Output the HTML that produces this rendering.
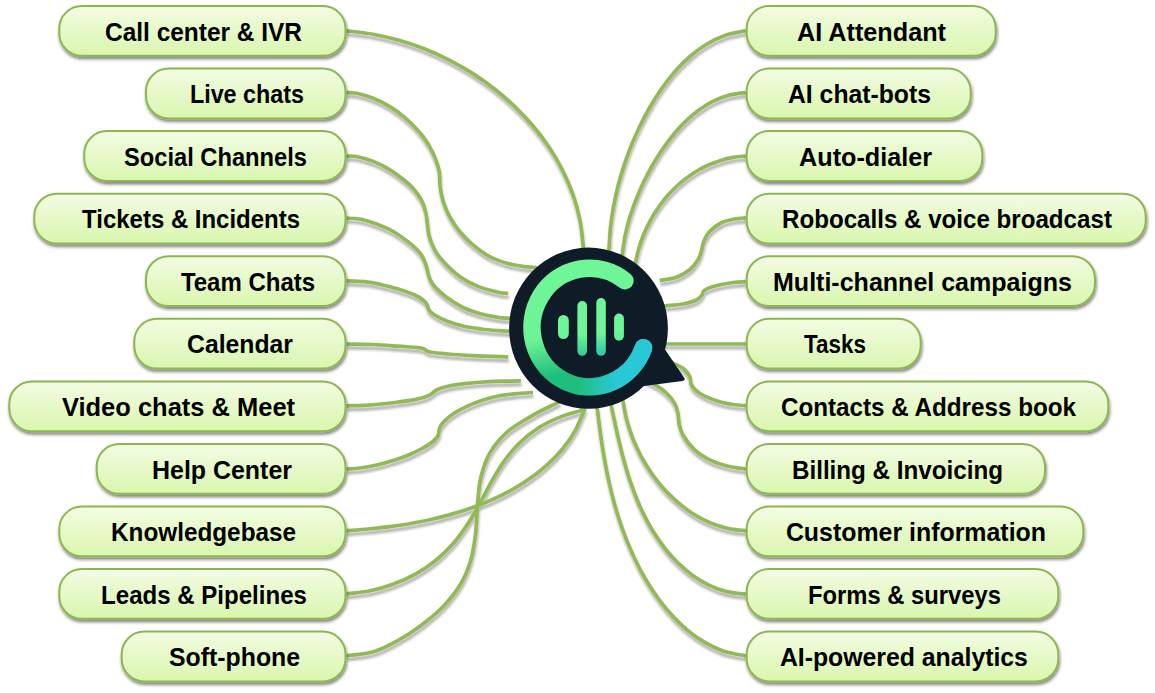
<!DOCTYPE html>
<html lang="en"><head><meta charset="utf-8"><title>Mind map</title>
<style>
html,body{margin:0;padding:0;background:#fff;}
body{width:1155px;height:693px;overflow:hidden;}
svg{display:block;}
.t{font-family:"Liberation Sans",sans-serif;font-weight:700;font-size:25.0px;fill:#000;}
.c{fill:none;stroke:#91b954;stroke-width:3.7;stroke-linecap:butt;}
.b{fill:url(#bg);stroke:#8cb750;stroke-width:2;}
</style></head><body>
<svg width="1155" height="693" viewBox="0 0 1155 693">
<defs>
<linearGradient id="bg" x1="0" y1="0" x2="0" y2="1"><stop offset="0" stop-color="#f3fce4"/><stop offset="0.5" stop-color="#e6f9c8"/><stop offset="1" stop-color="#daf6ae"/></linearGradient>
<filter id="sh" x="-5%" y="-20%" width="110%" height="150%"><feDropShadow dx="0.8" dy="2.5" stdDeviation="1.6" flood-color="#000" flood-opacity="0.48"/></filter>
<filter id="sl" x="-10%" y="-10%" width="120%" height="120%" filterUnits="userSpaceOnUse"><feDropShadow dx="0.6" dy="3.8" stdDeviation="1.0" flood-color="#000" flood-opacity="0.29"/></filter>
<linearGradient id="cg" gradientUnits="userSpaceOnUse" x1="575" y1="259" x2="600" y2="396"><stop offset="0" stop-color="#70f799"/><stop offset="0.52" stop-color="#6cf396"/><stop offset="0.8" stop-color="#1ebf7e"/><stop offset="1" stop-color="#1ebf7e"/></linearGradient>
<linearGradient id="cy" gradientUnits="userSpaceOnUse" x1="578" y1="0" x2="616" y2="0"><stop offset="0" stop-color="#28c8d6" stop-opacity="0"/><stop offset="1" stop-color="#28c8d6" stop-opacity="1"/></linearGradient>
<linearGradient id="bar" x1="0" y1="0" x2="0" y2="1"><stop offset="0" stop-color="#70f799"/><stop offset="0.55" stop-color="#6af295"/><stop offset="1" stop-color="#2fcb8b"/></linearGradient>
</defs>

<g filter="url(#sl)">
<path class="c" d="M346.5 30.8C350.9 31.4 364.2 32.6 373.0 34.2C381.7 35.8 390.4 37.8 399.0 40.3C407.5 42.7 416.0 45.6 424.3 48.8C432.6 52.1 440.8 55.8 448.8 59.8C456.8 63.9 464.6 68.3 472.2 73.1C479.8 78.0 487.1 83.1 494.2 88.7C501.3 94.2 508.1 100.1 514.6 106.3C521.0 112.4 527.2 119.0 532.9 125.8C538.7 132.6 544.1 139.7 549.0 147.1C554.0 154.5 558.5 162.2 562.5 170.1C566.5 178.0 570.1 186.2 573.0 194.6C575.9 202.9 578.3 211.6 580.0 220.3C581.8 229.1 582.7 242.2 583.3 247.3C583.9 252.4 583.7 250.2 583.7 250.8"/>
<path class="c" d="M346.5 92.5C348.2 92.6 352.2 92.3 356.6 93.3C361.1 94.3 367.6 96.1 373.2 98.3C378.8 100.5 384.3 103.1 389.9 106.6C395.4 110.0 401.0 114.0 406.5 119.0C412.0 124.0 418.6 130.8 423.0 136.5C427.4 142.2 430.4 147.4 433.0 153.0C435.6 158.6 437.8 165.3 438.9 169.8C440.0 174.3 439.4 176.6 439.7 180.0C440.0 183.4 439.9 186.1 440.6 190.0C441.3 193.9 442.4 198.9 443.9 203.3C445.4 207.7 447.1 211.9 449.7 216.6C452.3 221.3 455.8 226.8 459.7 231.5C463.6 236.2 468.0 240.6 473.0 244.8C478.0 249.0 484.1 253.5 489.6 256.5C495.1 259.5 500.7 261.4 506.2 263.0C511.7 264.6 518.3 265.7 522.8 266.4C527.3 267.1 531.0 267.1 533.3 267.3C535.6 267.5 536.2 267.5 536.8 267.6"/>
<path class="c" d="M346.5 156.1C348.2 156.2 352.2 155.6 356.6 156.5C361.1 157.4 367.6 159.2 373.2 161.4C378.8 163.6 384.8 166.7 389.9 169.8C395.0 172.9 400.1 176.9 404.0 180.0C407.9 183.1 410.1 185.0 413.0 188.3C415.9 191.6 419.3 196.1 421.4 200.0C423.5 203.9 424.6 207.7 425.6 211.6C426.6 215.5 426.8 219.3 427.3 223.2C427.9 227.1 427.7 230.5 428.9 234.9C430.1 239.3 432.1 245.1 434.7 249.8C437.3 254.5 440.5 258.6 444.7 263.0C448.9 267.4 454.1 272.5 459.7 276.4C465.2 280.3 471.6 283.8 478.0 286.4C484.4 289.0 492.9 291.0 497.9 292.2C502.9 293.4 506.5 293.3 508.2 293.5"/>
<path class="c" d="M346.5 218.2C348.7 218.3 354.9 218.0 359.9 219.0C364.9 220.0 371.1 221.9 376.6 224.0C382.2 226.1 387.7 228.3 393.2 231.5C398.7 234.7 405.1 239.3 409.8 243.2C414.5 247.1 418.6 250.9 421.4 254.8C424.2 258.7 425.1 262.8 426.4 266.4C427.6 270.0 428.0 273.6 428.9 276.4C429.8 279.2 430.8 281.0 432.0 283.0C433.2 285.0 433.7 285.8 436.4 288.3C439.1 290.9 443.3 295.0 448.0 298.3C452.7 301.6 459.1 305.7 464.7 308.3C470.2 310.9 475.8 312.5 481.3 314.0C486.8 315.5 493.4 316.7 497.9 317.4C502.4 318.1 505.9 318.0 508.2 318.2C510.5 318.4 511.1 318.4 511.7 318.5"/>
<path class="c" d="M346.5 280.8C349.6 280.9 359.0 281.1 364.9 281.7C370.8 282.3 376.1 283.5 381.6 284.7C387.2 285.9 392.7 287.3 398.2 289.0C403.7 290.7 410.7 293.2 414.8 295.0C418.9 296.8 420.9 298.3 423.0 300.0C425.1 301.7 426.3 303.3 427.3 305.0C428.3 306.7 427.7 308.3 428.9 310.0C430.1 311.7 431.5 313.1 434.7 315.0C437.9 316.9 443.0 319.7 448.0 321.6C453.0 323.5 459.1 325.3 464.7 326.5C470.2 327.7 475.8 328.3 481.3 329.0C486.8 329.7 493.4 330.3 497.9 330.7C502.4 331.1 505.9 331.1 508.2 331.2C510.5 331.3 511.1 331.3 511.7 331.4"/>
<path class="c" d="M346.5 344.0C350.9 344.1 364.6 344.1 373.2 344.5C381.8 344.9 391.3 345.7 398.2 346.2C405.1 346.7 410.7 346.9 414.8 347.3C418.9 347.7 421.1 347.9 423.0 348.5C424.9 349.1 425.0 350.0 426.4 350.6C427.8 351.2 427.8 351.7 431.4 352.3C435.0 352.9 441.1 353.4 448.0 354.0C454.9 354.6 463.0 355.1 473.0 355.6C483.0 356.1 502.3 356.6 508.2 356.8"/>
<path class="c" d="M346.5 405.8C349.6 405.7 359.0 405.6 364.9 405.3C370.8 405.0 376.1 404.6 381.6 404.0C387.2 403.4 392.7 402.7 398.2 402.0C403.7 401.3 410.1 400.5 414.8 399.6C419.5 398.7 423.5 397.7 426.4 396.6C429.3 395.6 430.6 394.4 432.3 393.3C434.0 392.2 433.8 391.2 436.4 390.0C439.0 388.8 443.3 387.4 448.0 386.3C452.7 385.2 457.8 384.5 464.7 383.7C471.6 382.9 480.2 382.2 489.6 381.7C499.0 381.2 515.7 380.9 520.9 380.8"/>
<path class="c" d="M346.5 469.0C348.7 468.8 354.9 468.7 359.9 468.0C364.9 467.3 371.1 466.2 376.6 465.0C382.2 463.8 387.7 462.4 393.2 460.6C398.7 458.9 404.8 456.6 409.8 454.5C414.8 452.4 419.1 450.2 423.0 448.0C426.9 445.8 430.5 443.6 433.0 441.5C435.5 439.4 436.9 437.9 438.0 435.7C439.1 433.4 438.7 430.4 439.7 428.0C440.7 425.6 441.7 423.9 443.9 421.6C446.1 419.3 449.3 416.5 453.0 414.0C456.7 411.5 461.3 408.9 466.3 406.6C471.3 404.3 477.4 401.8 483.0 400.0C488.6 398.2 494.1 396.9 499.6 395.8C505.1 394.7 510.6 394.2 516.2 393.6C521.8 393.1 530.2 392.7 533.0 392.5"/>
<path class="c" d="M346.5 530.7C350.1 530.4 361.0 529.7 368.2 529.0C375.3 528.3 382.4 527.6 389.5 526.7C396.6 525.7 403.7 524.7 410.7 523.5C417.8 522.2 424.8 520.9 431.8 519.3C438.8 517.7 445.7 515.9 452.7 513.9C459.6 511.9 466.5 509.7 473.2 507.2C480.0 504.8 486.8 502.1 493.3 499.1C499.9 496.1 506.4 492.9 512.7 489.3C518.9 485.8 525.1 482.0 530.9 477.8C536.8 473.7 542.5 469.2 547.7 464.4C553.0 459.6 558.0 454.5 562.5 449.0C567.0 443.5 571.2 437.7 574.7 431.4C578.3 425.2 582.0 415.4 583.8 411.6C585.6 407.8 585.0 408.9 585.3 408.4"/>
<path class="c" d="M346.5 593.9C350.4 593.4 362.3 592.4 370.1 590.7C378.0 589.1 386.0 586.9 393.6 584.0C401.3 581.2 408.9 577.8 415.9 573.9C423.0 569.9 429.8 565.3 436.0 560.3C442.2 555.2 447.9 549.5 453.2 543.6C458.4 537.6 463.1 531.0 467.5 524.3C471.9 517.7 475.8 510.5 479.7 503.5C483.7 496.5 487.2 489.2 491.2 482.2C495.3 475.2 499.2 468.1 503.8 461.6C508.5 455.1 513.5 448.8 519.2 443.2C524.9 437.6 531.4 432.4 538.3 428.0C545.2 423.6 553.1 419.9 560.6 416.9C568.0 413.9 579.3 411.1 583.0 410.0"/>
<path class="c" d="M346.5 655.8C351.1 655.1 365.6 654.0 374.2 651.4C382.8 648.8 390.2 644.7 398.1 640.3C406.0 635.9 414.1 630.6 421.7 624.9C429.2 619.3 437.0 613.0 443.4 606.3C449.8 599.5 455.8 592.2 460.4 584.5C465.0 576.7 468.4 568.4 470.9 559.7C473.5 551.1 474.6 541.9 475.7 532.8C476.8 523.6 476.7 514.0 477.5 504.7C478.4 495.5 478.8 486.0 480.9 477.3C483.0 468.6 485.7 460.0 490.2 452.4C494.7 444.7 500.9 437.6 507.9 431.4C515.0 425.3 524.5 420.0 532.6 415.3C540.6 410.6 551.9 405.6 556.4 403.3C560.9 401.0 559.0 402.0 559.5 401.7"/>
<path class="c" d="M745.9 30.8C742.4 31.6 731.5 33.2 724.9 35.4C718.2 37.7 712.0 40.9 706.1 44.5C700.2 48.1 694.6 52.4 689.4 57.0C684.1 61.6 679.2 66.7 674.5 72.0C669.9 77.4 665.5 83.1 661.4 89.0C657.3 94.9 653.4 101.0 649.8 107.2C646.2 113.5 642.9 119.9 639.8 126.3C636.7 132.8 633.8 139.3 631.1 145.9C628.5 152.5 626.1 159.1 623.9 165.8C621.7 172.5 619.8 179.2 618.0 185.9C616.3 192.7 614.8 199.5 613.6 206.4C612.3 213.3 611.3 220.2 610.5 227.3C609.8 234.4 609.3 244.8 609.0 249.0C608.7 253.2 608.8 251.9 608.8 252.5"/>
<path class="c" d="M745.9 92.6C743.0 93.0 734.2 93.8 728.7 95.3C723.3 96.7 718.2 98.8 713.3 101.2C708.4 103.6 703.7 106.6 699.3 109.7C694.9 112.9 690.7 116.6 686.6 120.4C682.6 124.2 678.8 128.3 675.2 132.5C671.6 136.8 668.1 141.3 664.9 145.9C661.6 150.4 658.5 155.2 655.6 160.0C652.6 164.8 649.9 169.8 647.3 174.7C644.7 179.7 642.3 184.8 640.0 189.9C637.8 195.0 635.7 200.1 633.8 205.4C631.9 210.6 630.2 215.8 628.7 221.1C627.2 226.5 625.9 231.8 624.8 237.3C623.8 242.8 622.8 250.6 622.3 254.0C621.8 257.4 621.9 256.9 621.8 257.5"/>
<path class="c" d="M745.9 156.1C743.8 156.3 737.3 156.7 733.1 157.4C728.9 158.2 724.8 159.2 720.8 160.4C716.7 161.6 712.8 163.1 709.0 164.8C705.1 166.5 701.4 168.4 697.7 170.5C694.1 172.6 690.6 175.0 687.2 177.5C683.8 180.0 680.6 182.7 677.5 185.5C674.3 188.4 671.4 191.4 668.5 194.6C665.7 197.7 663.0 201.1 660.5 204.5C658.0 207.9 655.6 211.5 653.4 215.1C651.2 218.8 649.2 222.5 647.3 226.3C645.5 230.2 643.8 234.1 642.3 238.0C640.8 242.0 639.5 246.0 638.4 250.1C637.2 254.1 636.2 259.7 635.6 262.3C635.0 264.9 635.0 265.1 634.8 265.7"/>
<path class="c" d="M745.9 217.9C744.0 218.1 738.6 218.2 734.5 219.0C730.4 219.8 725.1 220.9 721.0 223.0C716.9 225.1 712.5 228.5 709.6 231.6C706.7 234.7 705.2 238.2 703.8 241.5C702.4 244.8 702.3 248.4 701.3 251.5C700.3 254.6 699.9 256.8 698.0 259.8C696.1 262.9 693.3 266.9 689.7 269.8C686.1 272.7 681.4 275.5 676.4 277.3C671.4 279.1 662.5 280.1 659.7 280.6"/>
<path class="c" d="M745.9 281.5C743.2 281.8 735.2 282.1 729.7 283.0C724.2 283.9 717.3 285.3 713.0 286.6C708.7 287.9 705.8 289.4 704.0 290.8C702.2 292.2 703.2 293.5 702.0 295.0C700.8 296.5 699.7 298.5 696.5 300.0C693.3 301.5 688.1 303.0 683.0 304.0C677.9 305.0 669.2 305.4 665.7 305.8C662.2 306.2 662.8 306.1 662.2 306.2"/>
<path class="c" d="M745.9 344.0C732.8 344.0 681.1 344.0 667.4 344.0C653.7 344.0 664.5 344.0 663.9 344.0"/>
<path class="c" d="M745.9 405.7C743.8 405.5 737.9 405.3 733.0 404.5C728.1 403.7 721.9 402.6 716.4 400.7C710.9 398.8 703.9 395.8 699.7 393.2C695.5 390.6 693.0 387.8 691.4 385.0C689.8 382.2 691.2 379.4 689.8 376.6C688.4 373.8 686.0 370.7 683.0 368.3C680.0 365.9 675.3 364.2 671.5 362.5C667.7 360.8 662.5 359.0 660.0 358.0C657.5 357.0 657.3 356.9 656.7 356.7"/>
<path class="c" d="M745.9 469.0C743.2 468.6 735.4 467.9 729.6 466.5C723.8 465.1 717.1 463.5 711.3 460.7C705.5 457.9 699.4 454.2 694.7 449.9C690.0 445.6 685.6 439.4 683.0 435.0C680.4 430.6 679.8 426.9 679.0 423.3C678.2 419.7 678.7 416.6 678.0 413.3C677.3 410.0 676.6 406.7 674.7 403.3C672.8 399.9 669.5 396.1 666.5 393.2C663.5 390.3 660.1 387.9 656.5 385.7C652.9 383.5 647.4 381.2 645.0 380.0C642.6 378.8 642.4 378.7 641.9 378.4"/>
<path class="c" d="M745.9 530.7C743.4 530.4 735.8 530.0 731.0 529.1C726.1 528.2 721.4 526.9 716.8 525.3C712.2 523.7 707.7 521.8 703.4 519.6C699.0 517.4 694.8 514.9 690.7 512.2C686.7 509.5 682.8 506.6 679.0 503.4C675.3 500.3 671.7 496.9 668.2 493.4C664.8 489.9 661.5 486.2 658.4 482.4C655.4 478.6 652.4 474.6 649.7 470.5C647.0 466.5 644.4 462.2 642.0 458.0C639.7 453.7 637.5 449.2 635.5 444.8C633.5 440.3 631.7 435.7 630.2 431.1C628.6 426.5 627.2 421.8 626.0 417.0C624.9 412.2 623.8 405.5 623.2 402.5C622.6 399.5 622.6 399.6 622.5 399.1"/>
<path class="c" d="M745.9 594.2C742.7 593.8 732.8 593.1 726.6 591.6C720.5 590.1 714.5 587.8 708.9 585.1C703.2 582.4 697.8 579.0 692.7 575.4C687.6 571.7 682.8 567.6 678.2 563.2C673.7 558.8 669.4 554.0 665.4 549.0C661.5 544.0 657.8 538.7 654.4 533.3C650.9 528.0 647.8 522.3 644.9 516.7C642.0 511.0 639.3 505.1 636.9 499.2C634.5 493.4 632.3 487.4 630.2 481.4C628.2 475.4 626.4 469.3 624.7 463.2C622.9 457.1 621.4 451.0 619.9 444.8C618.4 438.7 617.1 432.5 615.7 426.3C614.3 420.1 612.4 411.2 611.6 407.5C610.8 403.8 611.0 404.7 610.9 404.1"/>
<path class="c" d="M746.3 656.0C742.4 655.2 730.4 653.4 723.0 650.9C715.7 648.4 708.7 644.8 702.0 640.7C695.4 636.7 689.2 631.8 683.3 626.6C677.5 621.4 672.0 615.6 666.8 609.5C661.7 603.5 656.9 597.0 652.5 590.3C648.1 583.6 644.0 576.6 640.2 569.6C636.5 562.5 633.0 555.2 629.9 547.9C626.7 540.6 623.9 533.2 621.3 525.8C618.7 518.3 616.4 510.8 614.3 503.3C612.2 495.7 610.4 488.2 608.7 480.6C607.0 473.0 605.5 465.3 604.2 457.6C602.8 449.9 601.6 442.1 600.5 434.2C599.4 426.3 598.0 414.6 597.4 410.0C596.8 405.4 597.0 407.1 597.0 406.5"/>
</g>
<g filter="url(#sh)">
<rect class="b" x="59.3" y="6.0" width="286.2" height="49.8" rx="22.5" ry="22.5"/>
<rect class="b" x="146.0" y="68.6" width="199.5" height="49.8" rx="22.5" ry="22.5"/>
<rect class="b" x="84.3" y="131.1" width="261.2" height="49.8" rx="22.5" ry="22.5"/>
<rect class="b" x="34.3" y="193.7" width="311.2" height="49.8" rx="22.5" ry="22.5"/>
<rect class="b" x="146.0" y="256.2" width="199.5" height="49.8" rx="22.5" ry="22.5"/>
<rect class="b" x="134.3" y="318.8" width="211.2" height="49.8" rx="22.5" ry="22.5"/>
<rect class="b" x="9.3" y="381.4" width="336.2" height="49.8" rx="22.5" ry="22.5"/>
<rect class="b" x="96.7" y="443.9" width="248.8" height="49.8" rx="22.5" ry="22.5"/>
<rect class="b" x="59.3" y="506.5" width="286.2" height="49.8" rx="22.5" ry="22.5"/>
<rect class="b" x="59.3" y="569.0" width="286.2" height="49.8" rx="22.5" ry="22.5"/>
<rect class="b" x="121.7" y="631.6" width="223.8" height="49.8" rx="22.5" ry="22.5"/>
<rect class="b" x="746.7" y="6.0" width="249.0" height="49.8" rx="22.5" ry="22.5"/>
<rect class="b" x="746.7" y="68.6" width="224.0" height="49.8" rx="22.5" ry="22.5"/>
<rect class="b" x="746.7" y="131.1" width="235.6" height="49.8" rx="22.5" ry="22.5"/>
<rect class="b" x="746.7" y="193.7" width="399.0" height="49.8" rx="22.5" ry="22.5"/>
<rect class="b" x="746.7" y="256.2" width="348.3" height="49.8" rx="22.5" ry="22.5"/>
<rect class="b" x="746.7" y="318.8" width="174.0" height="49.8" rx="22.5" ry="22.5"/>
<rect class="b" x="746.7" y="381.4" width="361.6" height="49.8" rx="22.5" ry="22.5"/>
<rect class="b" x="746.7" y="443.9" width="298.3" height="49.8" rx="22.5" ry="22.5"/>
<rect class="b" x="746.7" y="506.5" width="336.6" height="49.8" rx="22.5" ry="22.5"/>
<rect class="b" x="746.7" y="569.0" width="311.6" height="49.8" rx="22.5" ry="22.5"/>
<rect class="b" x="746.7" y="631.6" width="311.6" height="49.8" rx="22.5" ry="22.5"/>
</g>
<text class="t" x="105.00" y="40.6" textLength="197.00" lengthAdjust="spacingAndGlyphs">Call center &amp; IVR</text>
<text class="t" x="189.89" y="103.2" textLength="114.21" lengthAdjust="spacingAndGlyphs">Live chats</text>
<text class="t" x="124.00" y="165.7" textLength="182.92" lengthAdjust="spacingAndGlyphs">Social Channels</text>
<text class="t" x="82.10" y="228.3" textLength="217.91" lengthAdjust="spacingAndGlyphs">Tickets &amp; Incidents</text>
<text class="t" x="180.90" y="290.8" textLength="134.22" lengthAdjust="spacingAndGlyphs">Team Chats</text>
<text class="t" x="187.09" y="353.4" textLength="105.81" lengthAdjust="spacingAndGlyphs">Calendar</text>
<text class="t" x="61.90" y="416.0" textLength="233.20" lengthAdjust="spacingAndGlyphs">Video chats &amp; Meet</text>
<text class="t" x="152.00" y="478.5" textLength="140.00" lengthAdjust="spacingAndGlyphs">Help Center</text>
<text class="t" x="111.08" y="541.1" textLength="184.92" lengthAdjust="spacingAndGlyphs">Knowledgebase</text>
<text class="t" x="101.11" y="603.6" textLength="205.81" lengthAdjust="spacingAndGlyphs">Leads &amp; Pipelines</text>
<text class="t" x="169.02" y="666.2" textLength="131.09" lengthAdjust="spacingAndGlyphs">Soft-phone</text>
<text class="t" x="797.09" y="40.6" textLength="148.91" lengthAdjust="spacingAndGlyphs">AI Attendant</text>
<text class="t" x="788.00" y="103.2" textLength="143.00" lengthAdjust="spacingAndGlyphs">AI chat-bots</text>
<text class="t" x="799.03" y="165.7" textLength="133.09" lengthAdjust="spacingAndGlyphs">Auto-dialer</text>
<text class="t" x="782.00" y="228.3" textLength="329.92" lengthAdjust="spacingAndGlyphs">Robocalls &amp; voice broadcast</text>
<text class="t" x="773.00" y="290.8" textLength="298.93" lengthAdjust="spacingAndGlyphs">Multi-channel campaigns</text>
<text class="t" x="804.09" y="353.4" textLength="61.87" lengthAdjust="spacingAndGlyphs">Tasks</text>
<text class="t" x="780.90" y="416.0" textLength="295.10" lengthAdjust="spacingAndGlyphs">Contacts &amp; Address book</text>
<text class="t" x="791.98" y="478.5" textLength="211.04" lengthAdjust="spacingAndGlyphs">Billing &amp; Invoicing</text>
<text class="t" x="785.89" y="541.1" textLength="260.12" lengthAdjust="spacingAndGlyphs">Customer information</text>
<text class="t" x="808.08" y="603.6" textLength="192.92" lengthAdjust="spacingAndGlyphs">Forms &amp; surveys</text>
<text class="t" x="779.90" y="666.2" textLength="248.01" lengthAdjust="spacingAndGlyphs">AI-powered analytics</text>
<g>
<path d="M664 348 L684 377.6 Q686 380.6 682.4 381 L640 386.5 Z" fill="#0f1b26"/>
<ellipse cx="588.5" cy="328.2" rx="79.4" ry="80.6" fill="#0f1b26"/>
<path d="M624.90 280.77 A57.5 59.3 0 1 0 643.53 347.78" fill="none" stroke="url(#cg)" stroke-width="17.6" stroke-linecap="round"/>
<path d="M565.20 381.24 A57.5 59.3 0 0 0 643.53 347.78" fill="none" stroke="url(#cy)" stroke-width="17.6" stroke-linecap="round"/>
<linearGradient id="b0" x1="0" y1="0" x2="0" y2="1"><stop offset="0" stop-color="#6ff699"/><stop offset="0.6" stop-color="#6ff699"/><stop offset="1" stop-color="#6df497"/></linearGradient>
<rect x="558.0" y="315.0" width="10.8" height="24.0" rx="5.4" fill="url(#b0)"/>
<linearGradient id="b1" x1="0" y1="0" x2="0" y2="1"><stop offset="0" stop-color="#6ff699"/><stop offset="0.6" stop-color="#6ff699"/><stop offset="1" stop-color="#2fcb8b"/></linearGradient>
<rect x="577.4" y="301.1" width="9.6" height="54.7" rx="4.8" fill="url(#b1)"/>
<linearGradient id="b2" x1="0" y1="0" x2="0" y2="1"><stop offset="0" stop-color="#6ff699"/><stop offset="0.6" stop-color="#6ff699"/><stop offset="1" stop-color="#2bc6a4"/></linearGradient>
<rect x="596.3" y="298.1" width="9.5" height="57.7" rx="4.8" fill="url(#b2)"/>
<linearGradient id="b3" x1="0" y1="0" x2="0" y2="1"><stop offset="0" stop-color="#6ff699"/><stop offset="0.6" stop-color="#6ff699"/><stop offset="1" stop-color="#62ee96"/></linearGradient>
<rect x="614.1" y="313.6" width="9.8" height="27.1" rx="4.9" fill="url(#b3)"/>
</g>
</svg></body></html>
